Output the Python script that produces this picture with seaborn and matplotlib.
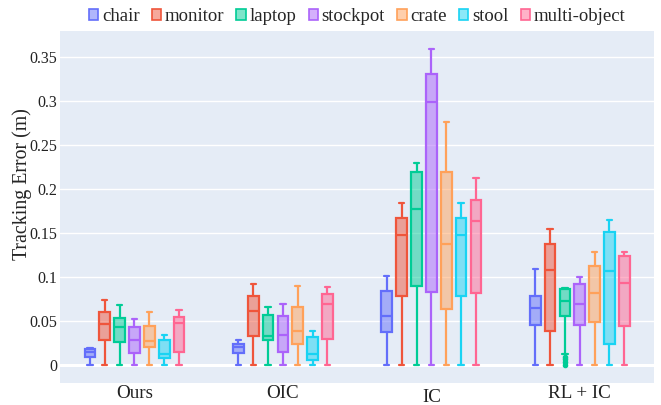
import numpy as np
import pandas as pd
import matplotlib
matplotlib.use("Agg")
import matplotlib.pyplot as plt
import seaborn as sns
from matplotlib.colors import to_rgba
from matplotlib.patches import Patch

methods = ["Ours", "OIC", "IC", "RL + IC"]
objects = ["chair", "monitor", "laptop", "stockpot", "crate", "stool", "multi-object"]
colors = ["#636EFA", "#EF553B", "#00CC96", "#AB63FA", "#FFA15A", "#19D3F3", "#FF6692"]

# Tracking errors (m) per object; one sample list per method (Ours, OIC, IC, RL + IC)
chair = [
    [0.0, 0.0095, 0.015, 0.0178, 0.0197],
    [0.0, 0.0133, 0.0208, 0.0239, 0.0284],
    [0.0, 0.0371, 0.0564, 0.0845, 0.1015],
    [0.0, 0.0458, 0.0651, 0.0784, 0.109],
]
monitor = [
    [0.0, 0.028, 0.047, 0.060, 0.0735],
    [0.0, 0.0333, 0.0614, 0.079, 0.0924],
    [0.0, 0.0784, 0.148, 0.167, 0.1845],
    [0.0, 0.039, 0.1087, 0.1375, 0.1549],
]
laptop = [
    [0.0, 0.026, 0.043, 0.0534, 0.0686],
    [0.0, 0.028, 0.0333, 0.0568, 0.0663],
    [0.0, 0.0905, 0.178, 0.2193, 0.2303],
    [0.0005, 0.003, 0.0064, 0.0092, 0.0122, 0.056, 0.058, 0.062, 0.066, 0.070, 0.0731,
     0.075, 0.078, 0.081, 0.084, 0.086, 0.0865, 0.087, 0.0872, 0.0875, 0.0879],
]
stockpot = [
    [0.0, 0.0133, 0.0284, 0.0428, 0.0523],
    [0.0, 0.0151, 0.0348, 0.0553, 0.070],
    [0.0, 0.083, 0.2989, 0.3307, 0.3598],
    [0.0, 0.0455, 0.070, 0.0917, 0.1004],
]
crate = [
    [0.0, 0.0205, 0.0273, 0.045, 0.0606],
    [0.0, 0.0235, 0.0383, 0.0659, 0.0905],
    [0.0, 0.0636, 0.138, 0.22, 0.2769],
    [0.0, 0.0492, 0.0818, 0.1125, 0.1284],
]
stool = [
    [0.0, 0.0076, 0.0129, 0.0284, 0.0345],
    [0.0, 0.006, 0.0121, 0.0314, 0.039],
    [0.0, 0.0784, 0.1485, 0.167, 0.1845],
    [0.0, 0.0242, 0.1075, 0.1511, 0.1648],
]
multi_object = [
    [0.0, 0.0151, 0.0477, 0.0545, 0.0621],
    [0.0, 0.0292, 0.070, 0.0803, 0.0886],
    [0.0, 0.0822, 0.164, 0.1883, 0.2128],
    [0.0, 0.0447, 0.0932, 0.1242, 0.1284],
]

yticks = [0, 0.05, 0.1, 0.15, 0.2, 0.25, 0.3, 0.35]
ytick_labels = ["0", "0.05", "0.1", "0.15", "0.2", "0.25", "0.3", "0.35"]

# long-form table: one row per trial
rows = []
for obj, samples in zip(objects, [chair, monitor, laptop, stockpot, crate, stool, multi_object]):
    for method, vals in zip(methods, samples):
        for v in vals:
            rows.append((method, obj, v))
df = pd.DataFrame(rows, columns=["method", "object", "error"])

sns.set_theme(style="white")
plt.rcParams["font.family"] = ["Liberation Serif", "DejaVu Serif"]

fig = plt.figure(figsize=(6.61, 4.05), dpi=100)
ax = fig.add_axes([0.0912, 0.0551, 0.8982, 0.8684])
ax.set_facecolor("#E5ECF6")
ax.set_axisbelow(True)
ax.grid(axis="y", color="white", linewidth=1.0, zorder=0)
ax.axhline(0, color="white", linewidth=2.2, zorder=0.5)

sns.boxplot(
    data=df, x="method", y="error", hue="object",
    order=methods, hue_order=objects, palette=colors, saturation=1,
    width=0.7, gap=0.28, fill=True, linewidth=1.6, whis=1.5,
    flierprops=dict(marker="o", markersize=3),
    legend=False, ax=ax,
)

# outline, whiskers, caps, median and outliers take the box's own hue;
# the body is filled with the same hue at half opacity
boxes = []
for patch in ax.patches:
    fc = to_rgba(patch.get_facecolor())[:3]
    verts = patch.get_path().vertices
    boxes.append((verts[:, 0].min(), verts[:, 0].max(), fc))
    patch.set_facecolor(to_rgba(fc, 0.5))
    patch.set_edgecolor(to_rgba(fc, 1.0))
for line in ax.lines:
    xs = np.asarray(line.get_xdata(), dtype=float)
    if xs.size == 0:
        continue
    xm = xs.mean()
    for x0, x1, fc in boxes:
        if x0 - 1e-6 <= xm <= x1 + 1e-6:
            line.set_color(fc)
            line.set_markerfacecolor(fc)
            line.set_markeredgecolor(fc)
            break

ax.set_xlim(-0.5, 3.5)
ax.set_ylim(-0.02, 0.38)
ax.set_yticks(yticks, ytick_labels)
ax.set_xlabel("")
ax.set_ylabel("Tracking Error (m)", fontsize=14.3)
ax.yaxis.set_label_coords(-0.048, 0.565)
ax.tick_params(axis="x", length=0, pad=2, labelsize=13.7, colors="#222222")
ax.tick_params(axis="y", length=0, pad=2, labelsize=11.5, colors="#222222")
for s in ax.spines.values():
    s.set_visible(False)
ax.xaxis.get_major_ticks()[2].set_pad(4.5)

handles = [Patch(facecolor=to_rgba(c, 0.5), edgecolor=c, linewidth=1.2, label=o)
           for o, c in zip(objects, colors)]
ax.legend(handles=handles, loc="lower center", bbox_to_anchor=(0.5, 1.017), ncol=7,
          frameon=False, fontsize=13.5, handlelength=0.5, handleheight=0.55,
          handletextpad=0.2, columnspacing=0.65, borderaxespad=0, borderpad=0)

fig.savefig("out.png", dpi=100)
